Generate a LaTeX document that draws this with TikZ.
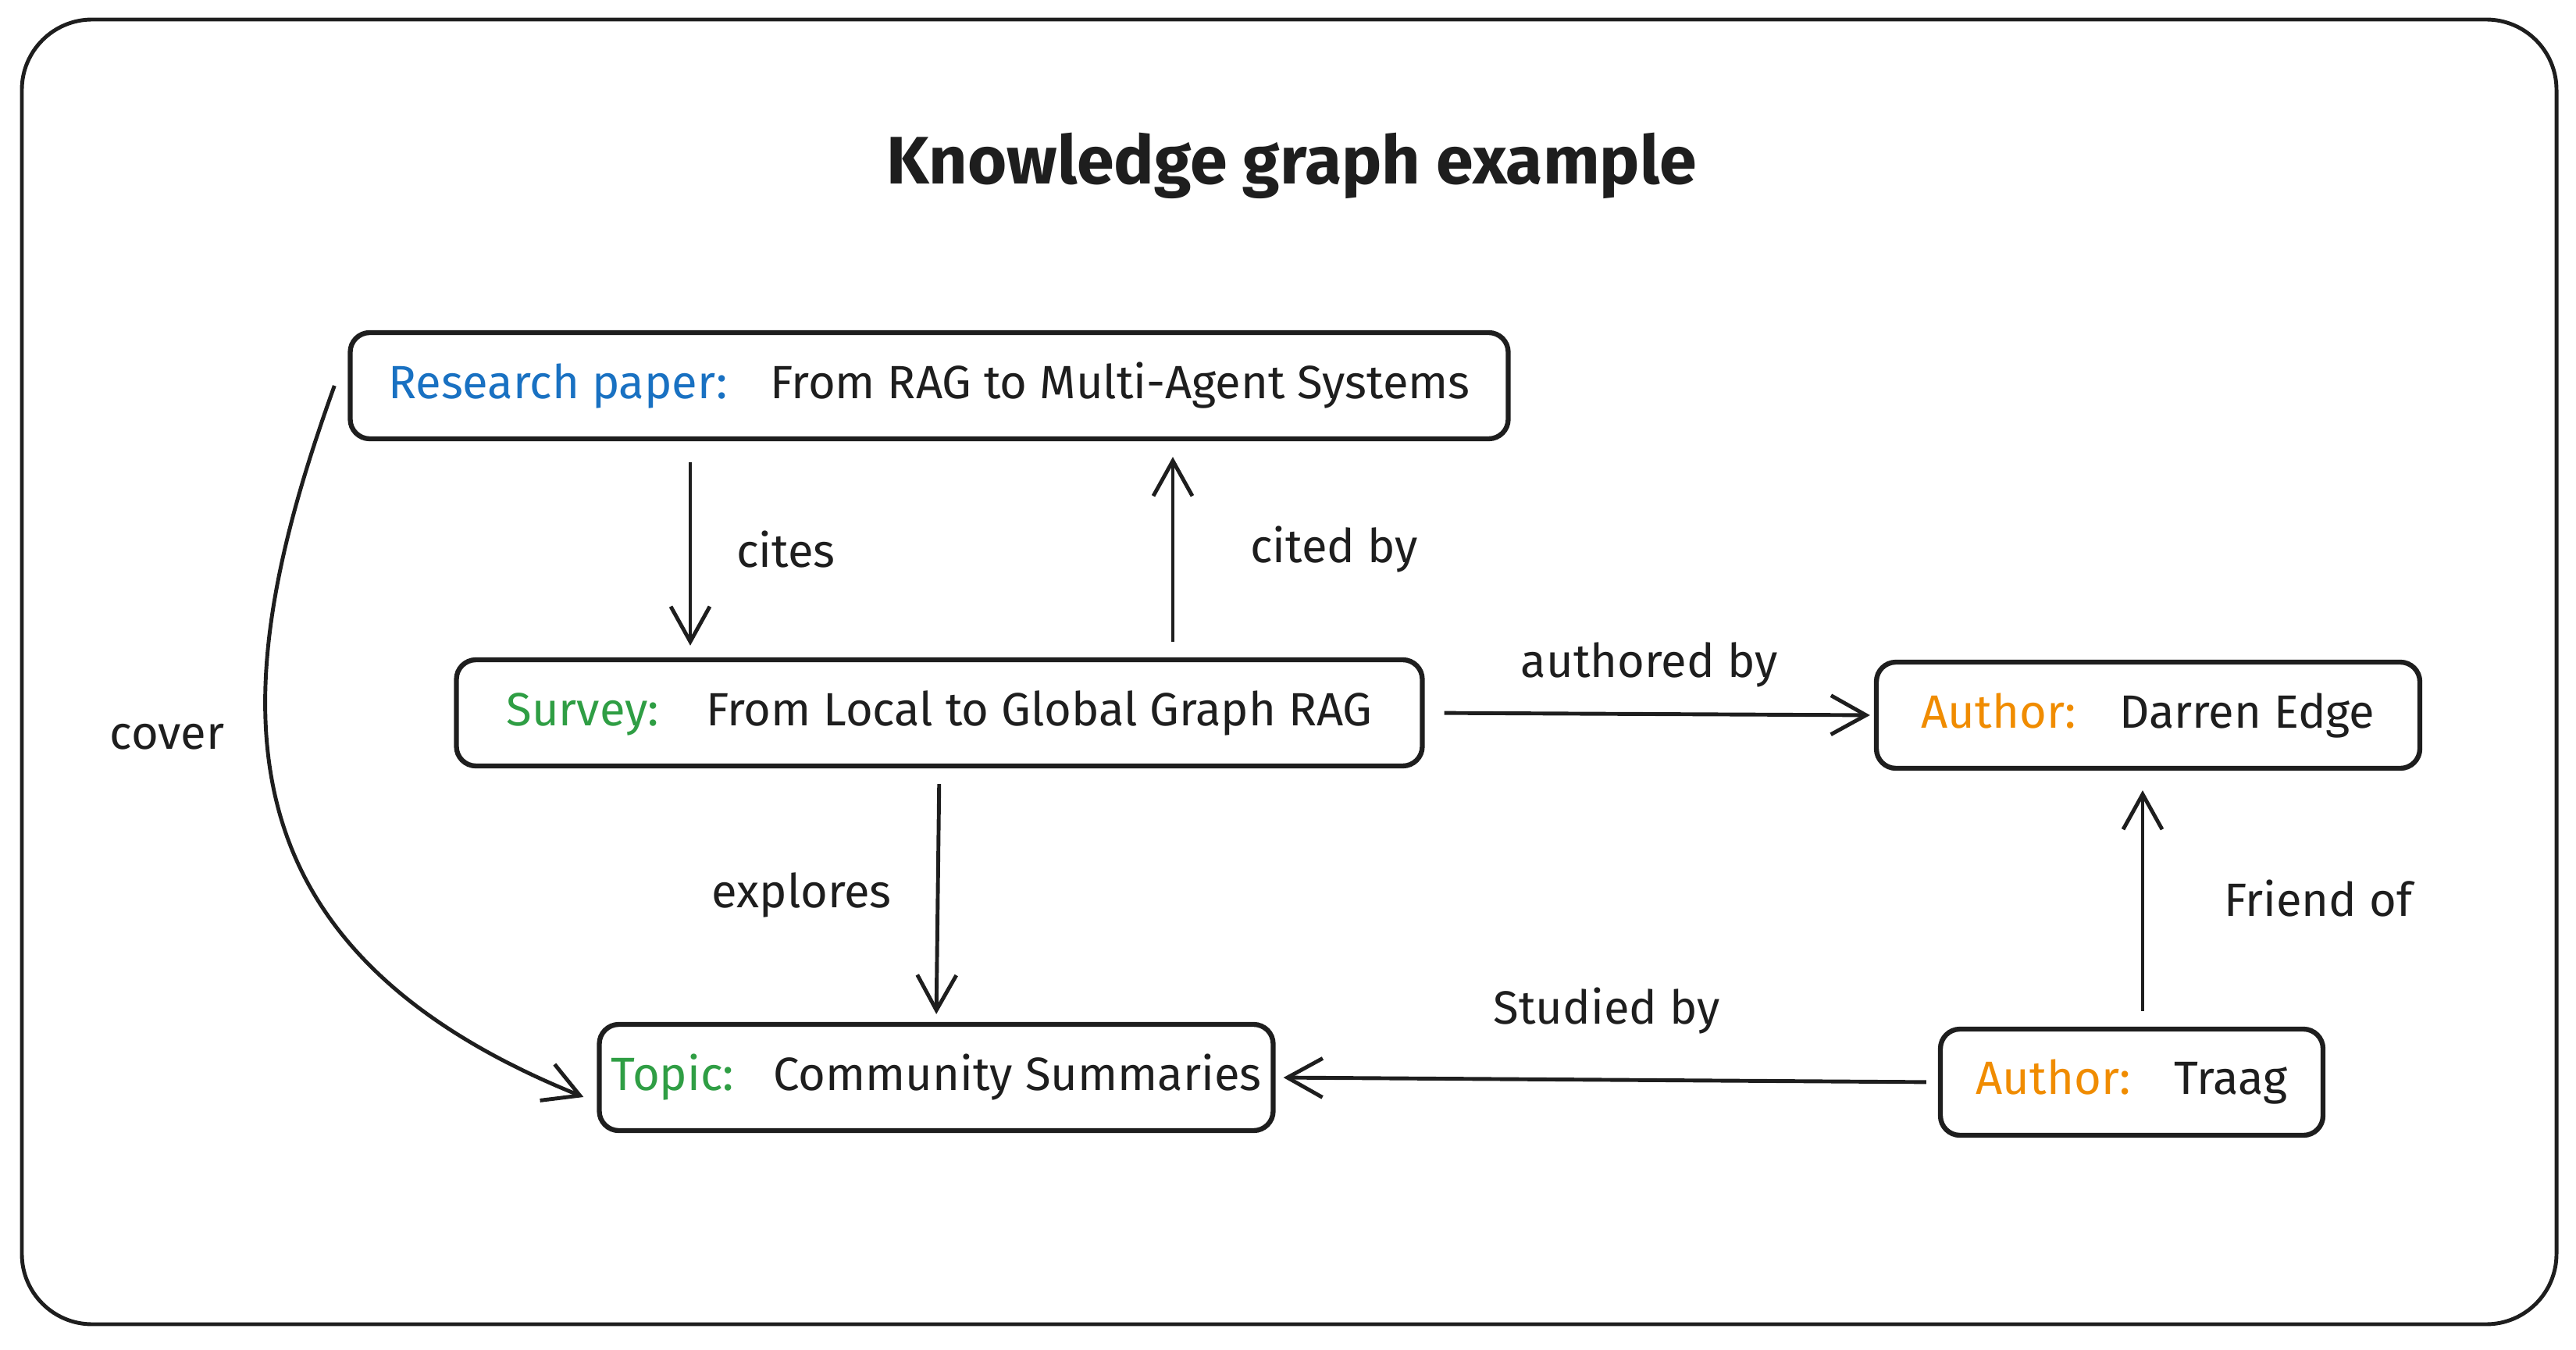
\documentclass[tikz,border=0pt]{standalone}
\usepackage{fontspec}
\setmainfont{Fira Sans}
\usepackage{tikz}
\usetikzlibrary{arrows.meta,positioning}
\definecolor{inkc}{HTML}{1E1E1E}
\definecolor{paperblue}{HTML}{1971C2}
\definecolor{surveygreen}{HTML}{2F9E44}
\definecolor{authororange}{HTML}{F08C00}

\tikzset{
  entity/.style={draw=inkc, line width=1.8pt, rounded corners=0.25cm, fill=white,
    font=\fontsize{17}{20}\selectfont, text=inkc, minimum height=1.36cm, inner xsep=0.05cm},
  link/.style={draw=inkc, line width=1.4pt, -{Straight Barb[length=0.45cm, width=0.5cm, line width=1.4pt]}},
  rel/.style={font=\fontsize{17}{20}\selectfont, text=inkc},
}

\begin{document}
\begin{tikzpicture}
    \useasboundingbox (0,0) rectangle (32.99,17.28);
    \draw[inkc, line width=1.4pt, rounded corners=0.9cm] (0.28,0.32) rectangle (32.74,17.03);
    \node[font=\fontsize{24.5}{29}\selectfont\bfseries, text=inkc] (title) at (16.54,15.16) {Knowledge graph example};

    % entities
    \node[entity, minimum width=14.83cm] (paper) at (11.90,12.34)
      {\textcolor{paperblue}{Research paper:}\hspace{0.55cm}From RAG to Multi-Agent Systems};
    \node[entity, minimum width=12.37cm] (survey) at (12.03,8.15)
      {\textcolor{surveygreen}{Survey:}\hspace{0.6cm}From Local to Global Graph RAG};
    \node[entity, minimum width=6.96cm] (edge) at (27.51,8.12)
      {\textcolor{authororange}{Author:}\hspace{0.55cm}Darren Edge};
    \node[entity, minimum width=8.63cm] (topic) at (11.99,3.48)
      {\textcolor{surveygreen}{Topic:}\hspace{0.5cm}Community Summaries};
    \node[entity, minimum width=4.90cm] (traag) at (27.30,3.42)
      {\textcolor{authororange}{Author:}\hspace{0.55cm}Traag};

    % relations
    \draw[link, shorten <=0.27cm, shorten >=0.15cm] ([xshift=-3.06cm]paper.south) -- ([xshift=-3.06cm]paper.south |- survey.north)
      node[rel, midway, right=0.45cm] (citeslbl) {cites};
    \draw[link, shorten <=0.2cm, shorten >=0.2cm] ([xshift=2.99cm]survey.north) -- ([xshift=2.99cm]survey.north |- paper.south)
      node[rel, midway, right=0.85cm] (citedlbl) {cited by};
    \draw[link, shorten <=0.25cm, shorten >=0.05cm] (survey.east) -- (edge.west)
      node[rel, midway, above=0.2cm] (authoredlbl) {authored by};
    \draw[link, shorten <=0.2cm, shorten >=0.1cm] (survey.south) -- (topic.north)
      node[rel, midway, left=0.45cm] (exploreslbl) {explores};
    \draw[link, shorten <=0.15cm, shorten >=0.1cm] (traag.west) -- (topic.east)
      node[rel, midway, above=0.45cm] (studiedlbl) {Studied by};
    \draw[link, shorten <=0.2cm, shorten >=0.25cm] ([xshift=0.14cm]traag.north) -- ([xshift=0.14cm]traag.north |- edge.south)
      node[rel, midway, right=0.9cm] (friendlbl) {Friend of};
    \draw[link] ([xshift=-0.17cm]paper.west) .. controls (2.9,8.5) and (2.6,5.2) .. ([xshift=-0.17cm, yshift=-0.25cm]topic.west)
      node[rel, pos=0.42, left=0.4cm] (coverlbl) {cover};
  \end{tikzpicture}
\end{document}
